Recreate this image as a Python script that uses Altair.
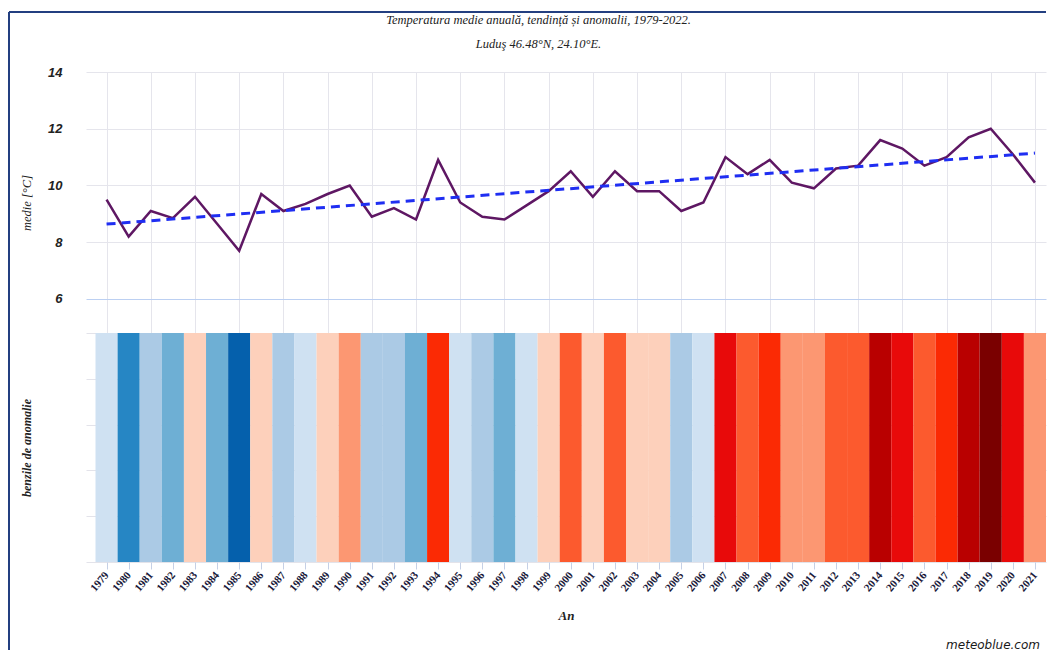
import altair as alt
import pandas as pd

# ---- data ----
years = list(range(1979, 2022))
temps = [9.5, 8.2, 9.1, 8.85, 9.6, 8.65, 7.7, 9.7, 9.1, 9.35, 9.7, 10.0, 8.9, 9.2,
         8.8, 10.9, 9.4, 8.9, 8.8, 9.3, 9.8, 10.5, 9.6, 10.5, 9.8, 9.8, 9.1, 9.4,
         11.0, 10.4, 10.9, 10.1, 9.9, 10.6, 10.7, 11.6, 11.3, 10.7, 11.0, 11.7,
         12.0, 11.1, 10.1]
anomaly_class = [-1, -4, -2, -3, 1, -3, -5, 1, -2, -1, 1, 2, -2, -2, -3, 4, -1, -2,
                 -3, -1, 1, 3, 1, 3, 1, 1, -2, -1, 5, 3, 4, 2, 2, 3, 3, 6, 5, 3, 4,
                 6, 7, 5, 2]
class_levels = [-5, -4, -3, -2, -1, 1, 2, 3, 4, 5, 6, 7]
class_colors = ["#0560ac", "#2686c4", "#6eafd4", "#abcae5", "#cfe1f2", "#fdd0bb",
                "#fc9772", "#fc5a2e", "#fb2a04", "#e80a0a", "#b90000", "#7a0000"]
y_ticks = [6, 8, 10, 12, 14]

df = pd.DataFrame({"year": years, "temp": temps, "cls": anomaly_class})

W = 960
H_TOP = 261
H_BOT = 229

x_scale = alt.Scale(domain=[1978.07, 2021.5], nice=False, zero=False)
y_scale = alt.Scale(domain=[4.8, 14], nice=False, zero=False)

SERIF = "Liberation Serif"

top_x = alt.X("year:Q", scale=x_scale,
              axis=alt.Axis(values=years, labels=False, ticks=False, domain=False,
                            grid=True, gridColor="#e5e5ec", gridWidth=1, title=None))
top_y = alt.Y("temp:Q", scale=y_scale,
              axis=alt.Axis(values=y_ticks, title="medie [°C]", ticks=False, tickSize=0,
                            domain=False, grid=True,
                            gridColor=alt.condition("datum.value == 6",
                                                    alt.value("#bcd0f2"),
                                                    alt.value("#e5e5ec")),
                            labelFont="Liberation Sans", labelFontStyle="italic",
                            labelFontWeight="bold", labelFontSize=13,
                            labelColor="#222222", labelPadding=24,
                            titleFont=SERIF, titleFontStyle="italic",
                            titleFontWeight="normal", titleFontSize=12.5,
                            titleColor="#222222", titlePadding=14))

line = alt.Chart(df).mark_line(color="#5e1763", strokeWidth=2.5).encode(x=top_x, y=top_y)

trend = (alt.Chart(df)
         .transform_regression("year", "temp")
         .mark_line(color="#1f2ef2", strokeWidth=3, strokeDash=[9, 6])
         .encode(x=alt.X("year:Q", scale=x_scale), y=alt.Y("temp:Q", scale=y_scale)))

frame_df = pd.DataFrame({"k": [0]})
frame_top = alt.Chart(frame_df).mark_rule(color="#233f80", strokeWidth=2).encode(
    x=alt.value(-77), x2=alt.value(W), y=alt.value(-60))
frame_left = alt.Chart(frame_df).mark_rule(color="#233f80", strokeWidth=2).encode(
    x=alt.value(-77), y=alt.value(-60), y2=alt.value(578))

top = alt.layer(line, trend, frame_top, frame_left).properties(width=W, height=H_TOP)

stripes = (alt.Chart(df)
           .transform_calculate(x0="datum.year - 0.5", x1="datum.year + 0.5")
           .mark_rect()
           .encode(
               x=alt.X("x0:Q", scale=x_scale,
                       axis=alt.Axis(values=years, format="d", labelAngle=-50,
                                     labelOverlap=False, labelBound=False,
                                     labelFlush=False,
                                     labelFont=SERIF, labelFontSize=11,
                                     labelFontWeight="bold", labelColor="#1a1a3a",
                                     labelPadding=4, ticks=True, tickSize=7,
                                     tickColor="#c5d0e6", domain=False, grid=False,
                                     title="An", titleFont=SERIF,
                                     titleFontStyle="italic", titleFontWeight="bold",
                                     titleFontSize=13, titleColor="#222222",
                                     titlePadding=16)),
               x2="x1:Q",
               y=alt.YDatum(0, type="quantitative",
                            scale=alt.Scale(domain=[0, 5], nice=False),
                            axis=alt.Axis(values=[0, 1, 2, 3, 4, 5], labels=False,
                                          ticks=False, tickSize=0, domain=False,
                                          grid=True, gridColor="#e3e3ea",
                                          title="benzile de anomalie", titleFont=SERIF,
                                          titleFontStyle="italic",
                                          titleFontWeight="bold", titleFontSize=12,
                                          titleColor="#222222", titlePadding=53)),
               y2=alt.Y2Datum(5),
               color=alt.Color("cls:O",
                               scale=alt.Scale(domain=class_levels, range=class_colors),
                               legend=None),
           ))

credit = alt.Chart(pd.DataFrame({"t": ["meteoblue.com"]})).mark_text(
    align="right", baseline="middle", font="DejaVu Sans", fontStyle="italic",
    fontSize=12, color="#1a1a1a").encode(x=alt.value(954), y=alt.value(312), text="t:N")

bottom = alt.layer(stripes, credit).properties(width=W, height=H_BOT)

chart = (alt.vconcat(top, bottom, spacing=0, bounds="flush")
         .properties(
             title=alt.TitleParams(
                 text="Temperatura medie anuală, tendință și anomalii, 1979-2022.",
                 subtitle="Luduş 46.48°N, 24.10°E.",
                 font=SERIF, fontStyle="italic", fontWeight="normal", fontSize=12.5,
                 color="#222222", subtitleFont=SERIF, subtitleFontStyle="italic",
                 subtitleFontSize=12.5, subtitleColor="#222222", subtitlePadding=11,
                 anchor="middle", offset=-39, dx=11),
             padding={"left": 0, "top": 3, "right": 0, "bottom": 0})
         .configure_view(strokeWidth=0))

chart.save("out.html", embed_options={"renderer": "svg", "actions": False})
